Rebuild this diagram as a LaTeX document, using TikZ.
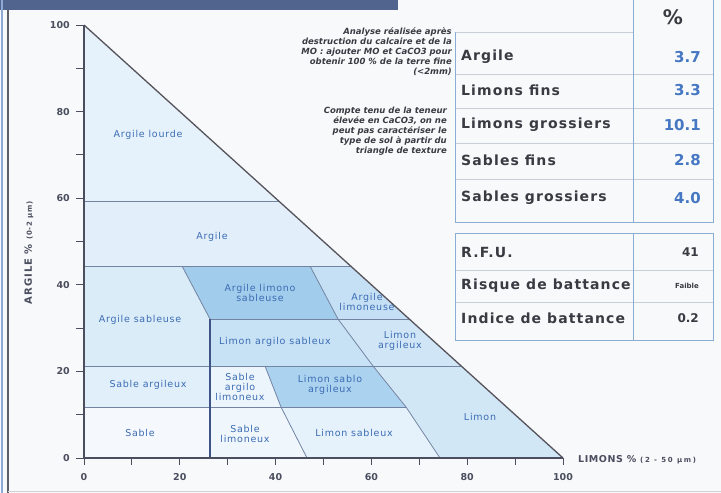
\documentclass[tikz,border=0pt]{standalone}
\usepackage{fontspec}
\setmainfont{DejaVu Sans}
\usetikzlibrary{positioning}
\usepackage{xcolor}
% Couleurs
\definecolor{pageBg}{HTML}{F7F9FB}
\definecolor{barBlue}{HTML}{51648E}
\definecolor{frameBlue}{HTML}{8EA8D8}
\definecolor{frameGrey}{HTML}{5E5E66}
\definecolor{lineBlue}{HTML}{7384A3}
\definecolor{vlineBlue}{HTML}{3E5386}
\definecolor{axisGrey}{HTML}{4A4E5E}
\definecolor{txtBlue}{HTML}{3C6CB4}
\definecolor{valBlue}{HTML}{4677C2}
\definecolor{tabGrey}{HTML}{3A3A42}
\definecolor{tabLine}{HTML}{C8CED8}
\definecolor{tabFrame}{HTML}{8AAED3}
\definecolor{zLourde}{HTML}{E6F2FB}
\definecolor{zArgile}{HTML}{E2EFFA}
\definecolor{zArgSab}{HTML}{DAECF8}
\definecolor{zALS}{HTML}{A2CCEB}
\definecolor{zAL}{HTML}{C5E0F4}
\definecolor{zLAS}{HTML}{C8E2F5}
\definecolor{zLA}{HTML}{D0E6F6}
\definecolor{zSA}{HTML}{E0EFFA}
\definecolor{zSAL}{HTML}{ECF5FC}
\definecolor{zLSA}{HTML}{ABD3EF}
\definecolor{zLimon}{HTML}{D2E7F6}
\definecolor{zSable}{HTML}{F5F9FD}
\definecolor{zSL}{HTML}{EFF6FC}
\definecolor{zLS}{HTML}{E5F1FB}
\tikzset{
    % Lines
    zoneLine/.style={draw=lineBlue, line width=0.8pt},
    sepLine/.style={draw=vlineBlue, line width=1.3pt},
    axisLine/.style={draw=axisGrey, line width=1.6pt},
    diagLine/.style={draw=axisGrey!90!brown, line width=1.3pt},
    tickLine/.style={draw=axisGrey, line width=0.9pt},
    tabRule/.style={draw=tabLine, line width=0.8pt},
    tabEdge/.style={draw=tabFrame, line width=1pt},
    % Labels
    zoneLbl/.style={text=txtBlue, align=center, inner sep=1pt,
                    font=\fontsize{9.5}{10}\selectfont\addfontfeature{LetterSpace=8}},
    tickLbl/.style={text=axisGrey, inner sep=1pt, font=\fontsize{9.5}{10}\selectfont\bfseries},
    tabLbl/.style={anchor=west, text=tabGrey, inner sep=0pt,
                   font=\fontsize{14}{14}\selectfont\bfseries\addfontfeature{LetterSpace=8}},
    tabVal/.style={anchor=east, text=valBlue, inner sep=0pt, font=\fontsize{15}{15}\selectfont\bfseries},
    noteTxt/.style={anchor=north east, align=right, text=tabGrey, inner sep=0pt,
                    font=\fontsize{8.5}{10}\selectfont\bfseries\itshape}
}

\begin{document}
\begin{tikzpicture}[x=1pt, y=-1pt]
\useasboundingbox (0,0) rectangle (721,493);
\fill[pageBg] (0,0) rectangle (721,493);

% cadre de la fiche
\fill[barBlue] (0,0) rectangle (398,10);
\draw[frameBlue, line width=2pt] (2,0) -- (2,493);
\draw[frameGrey, line width=1.4pt] (8,10) -- (8,493);
\draw[gray!35] (8,491) -- (721,491);

\coordinate (top) at (84,25);
\coordinate (orig) at (84,458);
\coordinate (end) at (563,458);

% zones du triangle
\fill[zLourde] (84,25) -- (279,201) -- (84,201) -- cycle;
\fill[zArgile] (84,201) -- (279,201) -- (351,266) -- (84,266) -- cycle;
\fill[zArgSab] (84,266) -- (182,266) -- (210,319) -- (210,366) -- (84,366) -- cycle;
\fill[zALS] (182,266) -- (310,266) -- (338,319) -- (210,319) -- cycle;
\fill[zAL] (310,266) -- (351,266) -- (409,319) -- (338,319) -- cycle;
\fill[zLAS] (210,319) -- (338,319) -- (373,366) -- (210,366) -- cycle;
\fill[zLA] (338,319) -- (409,319) -- (461,366) -- (373,366) -- cycle;
\fill[zSA] (84,366) -- (210,366) -- (210,407) -- (84,407) -- cycle;
\fill[zSAL] (210,366) -- (265,366) -- (281,407) -- (210,407) -- cycle;
\fill[zLSA] (265,366) -- (373,366) -- (406,407) -- (281,407) -- cycle;
\fill[zLimon] (373,366) -- (461,366) -- (563,458) -- (440,458) -- (406,407) -- cycle;
\fill[zSable] (84,407) -- (210,407) -- (210,458) -- (84,458) -- cycle;
\fill[zSL] (210,407) -- (281,407) -- (307,458) -- (210,458) -- cycle;
\fill[zLS] (281,407) -- (406,407) -- (440,458) -- (307,458) -- cycle;

% limites
\draw[zoneLine] (84,201) -- (279,201);
\draw[zoneLine] (84,266) -- (351,266);
\draw[zoneLine] (210,319) -- (409,319);
\draw[zoneLine] (84,366) -- (461,366);
\draw[zoneLine] (84,407) -- (406,407);
\draw[zoneLine] (182,266) -- (210,319);
\draw[zoneLine] (310,266) -- (338,319) -- (373,366) -- (406,407) -- (440,458);
\draw[zoneLine] (265,366) -- (281,407) -- (307,458);
\draw[sepLine] (210,319) -- (210,458);

% axes
\draw[diagLine] (top) -- (end);
\draw[axisLine] (top) -- (orig) -- (end);
\foreach \k in {0,...,10} {
    \draw[tickLine] (84,{458-43.3*\k}) -- (76,{458-43.3*\k});
    \draw[tickLine] ({84+47.9*\k},458) -- ({84+47.9*\k},465);
}
\foreach \v/\yy in {0/458,20/371.4,40/284.8,60/198.2,80/111.6,100/25}
    \node[tickLbl, anchor=east] (yl\v) at (71,\yy) {\v};
\foreach \v/\xx in {0/84,20/179.8,40/275.6,60/371.4,80/467.2,100/563}
    \node[tickLbl] (xl\v) at (\xx,477) {\v};

\node[tickLbl, rotate=90, font=\fontsize{10}{10}\selectfont\bfseries\addfontfeature{LetterSpace=10}] (argAxis) at (29,253)
    {ARGILE \% {\fontsize{7}{7}\selectfont (0-2 µm)}};
\node[tickLbl, anchor=west, font=\fontsize{9.5}{10}\selectfont\bfseries\addfontfeature{LetterSpace=6}] (limAxis) at (577,460)
    {LIMONS \% {\fontsize{7}{7}\selectfont\addfontfeature{LetterSpace=25}(2 - 50 µm)}};

% noms des textures
\node[zoneLbl] (lourde) at (148,135) {Argile lourde};
\node[zoneLbl] (argile) at (212,237) {Argile};
\node[zoneLbl] (argSab) at (140,320) {Argile sableuse};
\node[zoneLbl] (als) at (260,293) {Argile limono\\sableuse};
\node[zoneLbl] (al) at (367,302) {Argile\\limoneuse};
\node[zoneLbl] (las) at (275,342) {Limon argilo sableux};
\node[zoneLbl] (la) at (400,341) {Limon\\argileux};
\node[zoneLbl] (sa) at (148,385) {Sable argileux};
\node[zoneLbl] (sal) at (240,387) {Sable\\argilo\\limoneux};
\node[zoneLbl] (lsa) at (330,385) {Limon sablo\\argileux};
\node[zoneLbl] (sable) at (140,433) {Sable};
\node[zoneLbl] (sl) at (245,434) {Sable\\limoneux};
\node[zoneLbl] (ls) at (354,433) {Limon sableux};
\node[zoneLbl] (limon) at (480,417) {Limon};

% remarques
\node[noteTxt] (note1) at (452,27) {Analyse réalisée après\\destruction du calcaire et de la\\MO : ajouter MO et CaCO3 pour\\obtenir 100 \% de la terre fine\\(<2mm)};
\node[noteTxt] (note2) at (447,107) {Compte tenu de la teneur\\élevée en CaCO3, on ne\\peut pas caractériser le\\type de sol à partir du\\triangle de texture};

% tableau granulometrie
\draw[tabRule] (455,32) -- (633,32);
\foreach \yy in {74,108,143,179}
    \draw[tabRule] (455,\yy) -- (713,\yy);
\draw[tabEdge] (455,32) -- (455,222) -- (713,222) -- (713,0);
\draw[tabEdge] (633,0) -- (633,222);
\node[text=tabGrey, font=\fontsize{20}{20}\selectfont\bfseries] (pct) at (673,17) {\%};
\node[tabLbl] (rArg) at (461,57) {Argile};
\node[tabLbl] (rLf) at (461,90) {Limons fins};
\node[tabLbl] (rLg) at (461,125) {Limons grossiers};
\node[tabLbl] (rSf) at (461,160) {Sables fins};
\node[tabLbl] (rSg) at (461,198) {Sables grossiers};
\node[tabVal] (vArg) at (701,57) {3.7};
\node[tabVal] (vLf) at (701,90) {3.3};
\node[tabVal] (vLg) at (701,125) {10.1};
\node[tabVal] (vSf) at (701,160) {2.8};
\node[tabVal] (vSg) at (701,198) {4.0};

% tableau battance
\draw[tabRule] (455,270) -- (713,270);
\draw[tabRule] (455,302) -- (713,302);
\draw[tabEdge] (455,233) rectangle (713,340);
\draw[tabEdge] (633,233) -- (633,340);
\node[tabLbl] (rRfu) at (461,252) {R.F.U.};
\node[tabLbl] (rRisq) at (461,286) {Risque de battance};
\node[tabLbl] (rInd) at (461,318) {Indice de battance};
\node[tabVal, text=tabGrey, font=\fontsize{12}{12}\selectfont\bfseries] (vRfu) at (699,252) {41};
\node[tabVal, text=tabGrey, font=\fontsize{7}{7}\selectfont\bfseries] (vRisq) at (699,286) {Faible};
\node[tabVal, text=tabGrey, font=\fontsize{12}{12}\selectfont\bfseries] (vInd) at (699,318) {0.2};

\end{tikzpicture}
\end{document}
